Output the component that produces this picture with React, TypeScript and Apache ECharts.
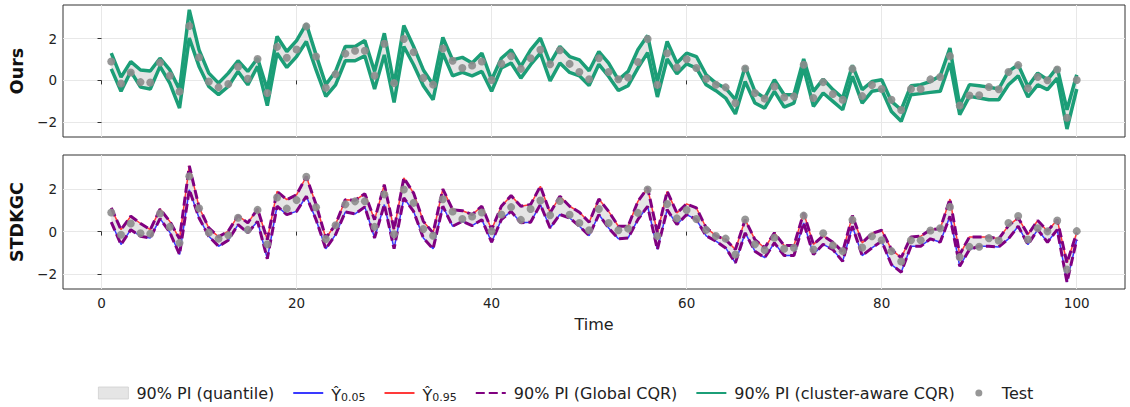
import React, { useEffect, useRef } from 'react';
import * as echarts from 'echarts';

const FONT = "'DejaVu Sans', sans-serif";

const time = Array.from({ length: 100 }, (_, i) => i + 1);
const xTicks = [0, 20, 40, 60, 80, 100];
const yTicks = [-2, 0, 2];

const testValues = [
  0.9, -0.15, 0.38, -0.08, -0.1, 0.85, 0.22, -0.53, 2.6, 1.1,
  -0.05, -0.33, -0.17, 0.65, 0.08, 1.02, -0.6, 1.6, 1.08, 1.48,
  2.58, 1.14, -0.35, 0.3, 1.28, 1.42, 1.42, 0.22, 1.75, -0.13,
  1.98, 1.35, 0.12, -0.2, 1.52, 0.94, 0.59, 0.71, 0.9, 0.02,
  0.8, 1.15, 0.55, 1.06, 1.46, 0.77, 1.44, 0.79, 0.4, 0.06,
  1.06, 0.4, 0.06, 0.14, 0.88, 1.98, -0.21, 1.3, 0.62, 1.01,
  0.59, 0.08, -0.21, -0.33, -1.08, 0.57, -0.6, -0.87, -0.29, -0.81,
  -0.76, 0.75, -0.84, -0.08, -0.65, -0.92, 0.55, -0.75, -0.22, -0.41,
  -0.92, -1.41, -0.41, -0.41, 0.05, 0.16, 1.16, -1.2, -0.72, -0.71,
  -0.31, -0.42, 0.4, 0.73, -0.37, 0.16, 0.01, 0.52, -1.78, 0.02,
];

// Ours: cluster-aware CQR interval
const oursLower = [
  0.55, -0.52, 0.43, -0.32, -0.41, 0.67, -0.13, -1.32, 2.02, 0.67,
  -0.29, -0.68, -0.29, 0.43, -0.21, 0.67, -1.2, 1.3, 0.62, 1.14,
  1.86, 0.5, -0.76, -0.21, 0.94, 0.94, 1.17, -0.41, 1.22, -1.05,
  1.62, 0.75, -0.25, -0.92, 1.3, 0.22, 0.38, 0.22, 0.43, -0.52,
  0.59, 0.83, 0.11, 0.75, 1.3, -0.02, 0.83, 0.38, 0.22, -0.24,
  0.77, 0.19, -0.48, -0.25, 0.59, 1.33, -0.79, 1.02, 0.32, 0.79,
  0.59, -0.21, -0.49, -0.84, -1.6, -0.05, -1.08, -1.32, -0.52, -1.27,
  -1.08, 0.59, -1.24, -0.6, -1.0, -1.4, 0.2, -1.08, -0.52, -0.44,
  -1.48, -1.95, -0.68, -0.63, -0.57, -0.52, 0.83, -1.63, -0.76, -0.84,
  -0.92, -0.92, -0.21, 0.22, -0.79, -0.21, -0.44, 0.11, -2.32, -0.41,
];
const oursUpper = [
  1.3, 0.16, 0.9, 0.5, 0.45, 1.06, 0.5, -0.44, 3.37, 1.46,
  0.35, -0.13, 0.35, 0.94, 0.43, 1.06, -0.44, 2.1, 1.38, 1.9,
  2.7, 1.22, -0.2, 0.43, 1.62, 1.62, 1.9, 0.43, 2.25, -0.2,
  2.62, 1.62, 0.5, -0.2, 2.05, 0.98, 1.1, 0.83, 1.3, 0.03,
  1.06, 1.46, 0.67, 1.46, 2.02, 0.83, 1.62, 1.14, 0.98, 0.46,
  1.38, 0.83, 0.03, 0.43, 1.46, 2.14, -0.05, 1.86, 0.83, 1.3,
  1.14, 0.27, -0.13, -0.37, -0.92, 0.67, -0.52, -0.84, 0.03, -0.68,
  -0.68, 1.02, -0.52, 0.06, -0.44, -0.84, 0.72, -0.44, -0.05, 0.03,
  -1.0, -1.4, -0.25, -0.2, -0.05, 0.22, 1.54, -1.2, -0.2, -0.25,
  -0.32, -0.41, 0.43, 0.75, -0.29, 0.35, 0.03, 0.62, -1.4, 0.27,
];

// STDKGC: quantile predictions (global CQR drawn on the same bounds)
const q05 = [
  0.44, -0.61, 0.09, -0.22, -0.3, 0.61, -0.03, -1.08, 1.97, 0.64,
  -0.22, -0.69, -0.41, 0.33, -0.06, 0.48, -1.28, 1.19, 0.8, 0.95,
  1.66, 0.56, -0.81, -0.14, 0.92, 0.83, 1.16, -0.3, 1.27, -0.81,
  1.58, 0.95, -0.3, -0.81, 1.19, 0.25, 0.48, 0.28, 0.56, -0.5,
  0.56, 0.95, 0.41, 0.44, 1.27, 0.17, 0.8, 0.64, 0.25, -0.19,
  0.8, 0.17, -0.34, -0.3, 0.56, 1.19, -0.84, 1.03, 0.33, 0.8,
  0.56, -0.2, -0.45, -0.77, -1.47, -0.06, -0.92, -1.23, -0.53, -1.13,
  -1.13, 0.41, -1.08, -0.6, -0.85, -1.4, 0.25, -1.13, -0.77, -0.45,
  -1.55, -1.91, -0.69, -0.69, -0.34, -0.5, 0.72, -1.63, -0.84, -0.69,
  -0.69, -0.72, -0.34, 0.25, -0.61, 0.09, -0.5, 0.09, -2.38, -0.38,
];
const q95 = [
  1.11, 0.09, 0.72, 0.38, 0.09, 1.06, 0.48, -0.34, 3.09, 1.15,
  0.17, -0.25, 0.02, 0.75, 0.41, 1.06, -0.38, 1.89, 1.5, 1.73,
  2.59, 1.27, -0.3, 0.33, 1.5, 1.47, 1.78, 0.56, 2.2, 0.09,
  2.52, 1.81, 0.48, -0.06, 2.0, 1.03, 0.98, 0.8, 1.19, 0.09,
  1.19, 1.69, 1.19, 1.27, 2.13, 0.88, 1.66, 1.19, 0.91, 0.44,
  1.53, 0.95, 0.25, 0.25, 1.42, 2.05, -0.06, 1.89, 0.88, 1.3,
  1.11, 0.18, -0.19, -0.38, -0.84, 0.56, -0.38, -0.77, -0.06, -0.66,
  -0.66, 0.88, -0.6, -0.2, -0.5, -0.95, 0.75, -0.53, -0.09, 0.06,
  -0.84, -1.23, -0.25, -0.22, 0.09, 0.13, 1.53, -1.08, -0.25, -0.25,
  -0.25, -0.34, 0.28, 0.64, -0.14, 0.52, 0.02, 0.56, -1.47, -0.06,
];

const LABELS: Record<string, string> = {
  quantile: '90% PI (quantile)',
  q05: '{y|\u0176}{s|0.05}',
  q95: '{y|\u0176}{s|0.95}',
  global: '90% PI (Global CQR)',
  cluster: '90% PI (cluster-aware CQR)',
  Test: 'Test',
};

const pair = (arr: number[]) => time.map((t, i) => [t, arr[i]]);

const GREEN = '#1b9e77';
const PURPLE = '#800080';
const BLUE = '#3a3aff';
const RED = '#ff3a3a';
const FILL = '#e5e5e5';
const DOT = '#8c8c8c';

function bandSeries(idx: number, lo: number[], hi: number[]) {
  return {
    type: 'custom', name: 'quantile', xAxisIndex: idx, yAxisIndex: idx,
    data: time.map((t, i) => [t, lo[i], hi[i]]),
    encode: { x: 0, y: [1, 2] },
    silent: true, z: 1,
    itemStyle: { color: FILL },
    renderItem: (params: any, api: any) => {
      if (params.dataIndex !== 0) return null;
      const pts: number[][] = [];
      for (let i = 0; i < time.length; i++) pts.push(api.coord([time[i], hi[i]]));
      for (let i = time.length - 1; i >= 0; i--) pts.push(api.coord([time[i], lo[i]]));
      return { type: 'polygon', shape: { points: pts }, style: { fill: FILL, stroke: FILL, lineWidth: 0.5 }, silent: true };
    },
  };
}

function lineSeries(idx: number, name: string, arr: number[], color: string, width: number, type: any = 'solid', z = 3) {
  return {
    type: 'line', name, xAxisIndex: idx, yAxisIndex: idx, data: pair(arr),
    symbol: 'none', lineStyle: { color, width, type }, itemStyle: { color }, z,
  };
}

function testSeries(idx: number) {
  return {
    type: 'scatter', name: 'Test', xAxisIndex: idx, yAxisIndex: idx, data: pair(testValues),
    symbolSize: 8, itemStyle: { color: DOT, opacity: 0.9 }, z: 5,
  };
}

export default function App() {
  const ref = useRef<HTMLDivElement>(null);
  useEffect(() => {
    if (!ref.current) return;
    const chart = echarts.init(ref.current, undefined, { renderer: 'svg' });
    const minus = (v: number) => String(v).replace('-', '\u2212');
    const hideSym = { opacity: 0 };
    const option: any = {
      animation: false,
      textStyle: { fontFamily: FONT },
      grid: [
        { left: 60, right: 5, top: 5, height: 132, show: true, borderColor: '#333', borderWidth: 1 },
        { left: 60, right: 5, top: 155, height: 134, show: true, borderColor: '#333', borderWidth: 1 },
      ],
      xAxis: [0, 1].map((i) => ({
        type: 'value', gridIndex: i, min: -3.95, max: 104.95,
        axisLine: { show: false },
        axisTick: { show: true, length: 4, lineStyle: { color: '#333' }, customValues: xTicks },
        axisLabel: { show: i === 1, customValues: xTicks, fontSize: 13.5, color: '#222', margin: 7, fontFamily: FONT },
        splitLine: { show: true, lineStyle: { color: '#e8e8e8', width: 1 } },
        name: i === 1 ? 'Time' : '', nameLocation: 'middle', nameGap: 27,
        nameTextStyle: { fontSize: 16, color: '#222', fontFamily: FONT },
      })),
      yAxis: [0, 1].map((i) => ({
        type: 'value', gridIndex: i, min: -2.7, max: 3.6,
        axisLine: { show: false },
        axisTick: { show: true, length: 4, lineStyle: { color: '#333' }, customValues: yTicks },
        axisLabel: { customValues: yTicks, fontSize: 13.5, color: '#222', margin: 6, formatter: minus, fontFamily: FONT },
        splitLine: { show: true, lineStyle: { color: '#e8e8e8', width: 1 } },
        name: i === 0 ? 'Ours' : 'STDKGC', nameLocation: 'middle', nameGap: 37, nameRotate: 90,
        nameTextStyle: { fontSize: 17.5, fontWeight: 'bold', color: '#111', fontFamily: FONT },
      })),
      legend: {
        top: 385, left: 98, padding: 0, itemWidth: 30, itemHeight: 12, itemGap: 18,
        textStyle: {
          fontSize: 16, color: '#222', fontFamily: FONT, padding: [0, 0, 0, 3],
          rich: {
            y: { fontSize: 16, fontFamily: FONT, color: '#222', verticalAlign: 'bottom', lineHeight: 20 },
            s: { fontSize: 11, fontFamily: FONT, color: '#222', verticalAlign: 'bottom', lineHeight: 14 },
          },
        },
        formatter: (n: string) => LABELS[n] ?? n,
        data: [
          { name: 'quantile', icon: 'rect', itemStyle: { color: FILL, borderColor: '#cfcfcf', borderWidth: 0.8 } },
          { name: 'q05', itemStyle: hideSym },
          { name: 'q95', itemStyle: hideSym },
          { name: 'global', itemStyle: hideSym },
          { name: 'cluster', itemStyle: hideSym },
          {
            name: 'Test',
            icon: 'path://M0,0 M12,12 M9.5,6 A3.5,3.5 0 1 1 2.5,6 A3.5,3.5 0 1 1 9.5,6 Z',
          },
        ],
      },
      series: [
        bandSeries(0, oursLower, oursUpper),
        lineSeries(0, 'cluster', oursLower, GREEN, 3.5),
        lineSeries(0, 'cluster', oursUpper, GREEN, 3.5),
        testSeries(0),
        bandSeries(1, q05, q95),
        lineSeries(1, 'q05', q05, BLUE, 1.5, 'solid', 2),
        lineSeries(1, 'q95', q95, RED, 1.5, 'solid', 2),
        lineSeries(1, 'global', q05, PURPLE, 3, [9, 4], 3),
        lineSeries(1, 'global', q95, PURPLE, 3, [9, 4], 3),
        testSeries(1),
      ],
    };
    chart.setOption(option);
    return () => chart.dispose();
  }, []);
  return (
    <div
      ref={ref}
      style={{ position: 'absolute', left: 0, top: 0, width: 1130, height: 407, background: '#fff' }}
    />
  );
}
